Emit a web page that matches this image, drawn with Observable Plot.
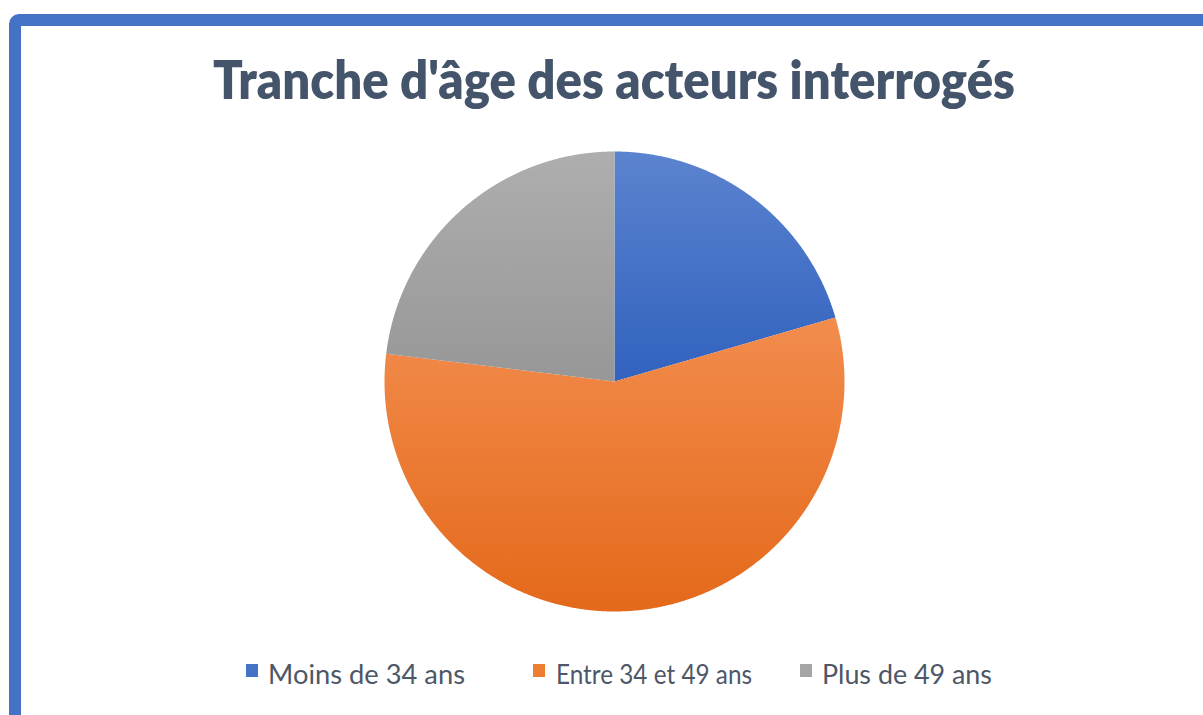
<!DOCTYPE html>
<html>
<head>
<meta charset="utf-8">
<script src="https://cdn.jsdelivr.net/npm/d3@7"></script>
<script src="https://cdn.jsdelivr.net/npm/@observablehq/plot@0.6"></script>
<style>
  html, body { margin: 0; padding: 0; background: #fff; overflow: hidden; }
  #wrap { position: relative; width: 1203px; height: 715px; overflow: hidden; background: #fff; }
  #frame { position: absolute; left: 9px; top: 14px; width: 1300px; height: 900px; border: 12px solid #4472c4; border-radius: 10px; box-sizing: border-box; }
  #title { position: absolute; left: 213px; top: 47px; font-family: Lato, "Open Sans", sans-serif; font-weight: 800; font-size: 52px; color: #44546a; white-space: nowrap; line-height: 64px; }
  #title span { display: inline-block; transform-origin: left center; }
  #chart { position: absolute; left: 374px; top: 141px; }
  .leg { position: absolute; top: 657px; font-family: Lato, "Open Sans", sans-serif; font-size: 27px; color: #4d5767; line-height: 34px; white-space: nowrap; transform-origin: left center; }
  .sw { position: absolute; width: 12px; height: 13px; top: 664px; }
</style>
</head>
<body>
<div id="wrap">
  <div id="frame"></div>
  <div id="title"><span id="titleText">Tranche d'âge des acteurs interrogés</span></div>
  <div id="chart"></div>
  <div id="legend"></div>
</div>
<script>
// Data
const categories = ["Moins de 34 ans", "Entre 34 et 49 ans", "Plus de 49 ans"];
const counts = [8, 22, 9];
const gradientColors = [["#5b83cf", "#3162be"], ["#f28c4d", "#e4691a"], ["#aeaeae", "#979797"]];
const swatchColors = ["#4472c4", "#ed7d31", "#a5a5a5"];

// Build slice polygons from pie angles
const arcs = d3.pie().sort(null)(counts);
const slices = arcs.map((a, i) => {
  const pts = [{x: 0, y: 0, cat: categories[i]}];
  const n = Math.max(4, Math.ceil((a.endAngle - a.startAngle) / 0.005));
  for (let k = 0; k <= n; k++) {
    const t = a.startAngle + (a.endAngle - a.startAngle) * k / n;
    pts.push({x: Math.sin(t), y: Math.cos(t), cat: categories[i]});
  }
  return pts;
});

const R = 230, M = 10;
const plot = Plot.plot({
  width: 2 * R + 2 * M,
  height: 2 * R + 2 * M,
  margin: M,
  x: {domain: [-1, 1], axis: null},
  y: {domain: [-1, 1], axis: null},
  marks: slices.map((pts, i) => Plot.line(pts, {x: "x", y: "y", curve: "linear-closed", fill: `url(#grad${i})`, stroke: "none"}))
});
plot.insertAdjacentHTML("afterbegin", `<defs>${gradientColors.map((c, i) =>
  `<linearGradient id="grad${i}" x1="0" y1="0" x2="0" y2="1"><stop offset="0" stop-color="${c[0]}"/><stop offset="1" stop-color="${c[1]}"/></linearGradient>`).join("")}</defs>`);
document.getElementById("chart").appendChild(plot);

// Legend
const legX = [[246, 268, 197], [533, 556, 196], [800, 822, 170]];
const legend = document.getElementById("legend");
categories.forEach((c, i) => {
  const sw = document.createElement("div");
  sw.className = "sw"; sw.style.left = legX[i][0] + "px"; sw.style.background = swatchColors[i];
  legend.appendChild(sw);
  const t = document.createElement("div");
  t.className = "leg"; t.style.left = legX[i][1] + "px"; t.textContent = c;
  legend.appendChild(t);
  const tw = t.getBoundingClientRect().width;
  t.style.transform = `scaleX(${legX[i][2] / tw})`;
});

// Fit title width
const tt = document.getElementById("titleText");
const w = tt.getBoundingClientRect().width;
tt.style.transform = `scaleX(${802 / w})`;
</script>
</body>
</html>
